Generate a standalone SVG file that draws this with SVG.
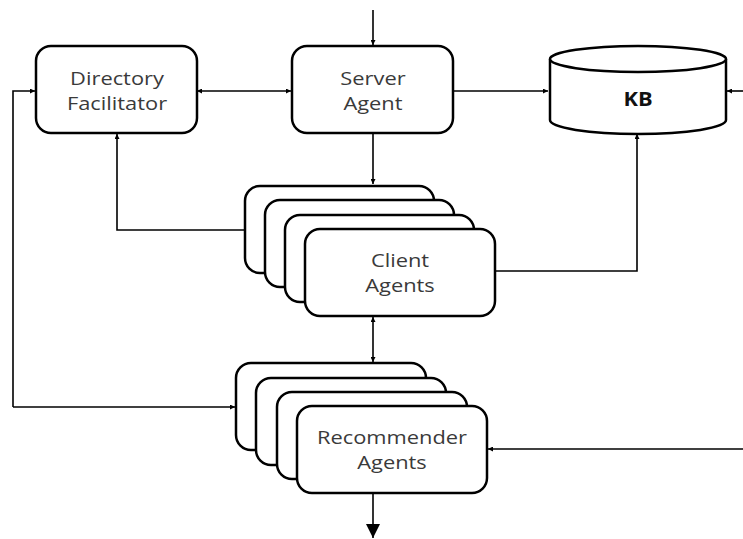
<svg xmlns="http://www.w3.org/2000/svg" width="743" height="539" viewBox="0 0 743 539">
<defs>
<marker id="ah" viewBox="0 0 10 10" refX="10" refY="5" markerWidth="5" markerHeight="5" orient="auto-start-reverse" markerUnits="userSpaceOnUse">
<path d="M0,0 L10,5 L0,10 z" fill="#000"/>
</marker>
<marker id="big" viewBox="0 0 10 10" refX="10" refY="5" markerWidth="14" markerHeight="16" orient="auto" markerUnits="userSpaceOnUse">
<path d="M0,0 L10,5 L0,10 z" fill="#000"/>
</marker>
</defs>
<style>
.box{fill:#fff;stroke:#000;stroke-width:2.5}
.ln{fill:none;stroke:#000;stroke-width:1.6}
.t{font-family:"Open Sans","Liberation Sans",sans-serif;font-size:19px;fill:#3a3a3a;text-anchor:middle}
.b{font-family:"Open Sans","Liberation Sans",sans-serif;font-size:19px;font-weight:bold;fill:#111;text-anchor:middle}
</style>
<rect width="743" height="539" fill="#fff"/>
<g id="connectors">
<path class="ln" d="M373,10 V45" marker-end="url(#ah)"/>
<path class="ln" d="M197,91 H291" marker-start="url(#ah)" marker-end="url(#ah)"/>
<path class="ln" d="M453,91 H548" marker-end="url(#ah)"/>
<path class="ln" d="M743,91 H727" marker-end="url(#ah)"/>
<path class="ln" d="M13,407 V91 H35" marker-end="url(#ah)"/>
<path class="ln" d="M13,407 H235" marker-end="url(#ah)"/>
<path class="ln" d="M373,134 V184" marker-end="url(#ah)"/>
<path class="ln" d="M245,230 H117 V134" marker-end="url(#ah)"/>
<path class="ln" d="M495,271 H637 V134" marker-end="url(#ah)"/>
<path class="ln" d="M373,317 V362" marker-start="url(#ah)" marker-end="url(#ah)"/>
<path class="ln" d="M743,449 H488" marker-end="url(#ah)"/>
<path class="ln" d="M373,494 V538" marker-end="url(#big)"/>
</g>
<g id="directory-facilitator">
<rect class="box" x="36" y="46" width="161" height="87" rx="15"/>
<g transform="translate(117,0) scale(1.15,1)">
<text class="t" x="0" y="85">Directory</text>
<text class="t" x="0" y="110">Facilitator</text>
</g>
</g>
<g id="server-agent">
<rect class="box" x="292" y="46" width="161" height="87" rx="15"/>
<g transform="translate(373,0) scale(1.15,1)">
<text class="t" x="0" y="85">Server</text>
<text class="t" x="0" y="110">Agent</text>
</g>
</g>
<g id="kb">
<path class="box" d="M550,59 V120 A88,14 0 0 0 726,120 V59"/>
<ellipse class="box" cx="638" cy="59" rx="88" ry="13"/>
<g transform="translate(638,0) scale(1.15,1)">
<text class="b" x="0" y="106">KB</text>
</g>
</g>
<g id="client-agents">
<rect class="box" x="245" y="186" width="189" height="87" rx="15"/>
<rect class="box" x="265" y="200" width="189" height="87" rx="15"/>
<rect class="box" x="285" y="215" width="189" height="87" rx="15"/>
<rect class="box" x="305" y="229" width="190" height="87" rx="15"/>
<g transform="translate(400,0) scale(1.15,1)">
<text class="t" x="0" y="267">Client</text>
<text class="t" x="0" y="292">Agents</text>
</g>
</g>
<g id="recommender-agents">
<rect class="box" x="236" y="363" width="190" height="87" rx="15"/>
<rect class="box" x="256" y="378" width="190" height="87" rx="15"/>
<rect class="box" x="277" y="392" width="190" height="87" rx="15"/>
<rect class="box" x="297" y="406" width="190" height="87" rx="15"/>
<g transform="translate(392,0) scale(1.15,1)">
<text class="t" x="0" y="444">Recommender</text>
<text class="t" x="0" y="469">Agents</text>
</g>
</g>
</svg>
